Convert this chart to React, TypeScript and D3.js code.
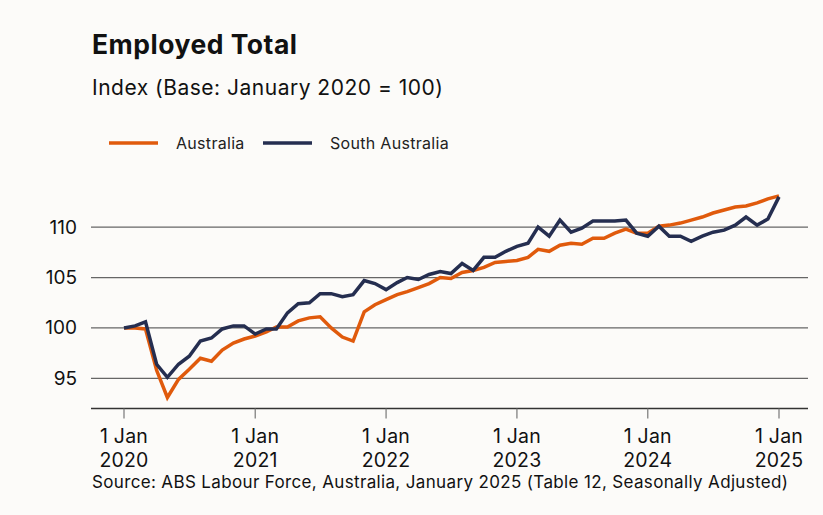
import React, { useEffect, useRef } from "react";
import * as d3 from "d3";

// monthly, Jan 2020 .. Jan 2025
const startMonth = new Date(2020, 0, 1);

const australia = [
  100.0, 100.0, 99.9, 95.8, 93.1, 94.9, 95.9, 97.0, 96.7, 97.8, 98.5, 98.9,
  99.2, 99.6, 100.1, 100.1, 100.7, 101.0, 101.1, 100.0, 99.1, 98.7, 101.6, 102.3,
  102.8, 103.3, 103.6, 104.0, 104.4, 105.0, 104.9, 105.5, 105.7, 106.0, 106.5, 106.6,
  106.7, 107.0, 107.8, 107.6, 108.2, 108.4, 108.3, 108.9, 108.9, 109.4, 109.8, 109.4,
  109.4, 110.1, 110.2, 110.4, 110.7, 111.0, 111.4, 111.7, 112.0, 112.1, 112.4, 112.8,
  113.1,
];

const southAustralia = [
  100.0, 100.2, 100.6, 96.4, 95.1, 96.4, 97.2, 98.7, 99.0, 99.9, 100.2, 100.2,
  99.4, 99.9, 99.9, 101.5, 102.4, 102.5, 103.4, 103.4, 103.1, 103.3, 104.7, 104.4,
  103.8, 104.5, 105.0, 104.8, 105.3, 105.6, 105.4, 106.4, 105.7, 107.0, 107.0, 107.6,
  108.1, 108.4, 110.0, 109.1, 110.7, 109.5, 109.9, 110.6, 110.6, 110.6, 110.7, 109.4,
  109.1, 110.1, 109.1, 109.1, 108.6, 109.1, 109.5, 109.7, 110.2, 111.0, 110.2, 110.8,
  113.0,
];

const yTicks = [95, 100, 105, 110];
const xTickYears = [2020, 2021, 2022, 2023, 2024, 2025];

const series = [
  { name: "Australia", values: australia, color: "#e05a0c" },
  { name: "South Australia", values: southAustralia, color: "#252e50" },
];

const font = "Inter, 'DejaVu Sans', sans-serif";

function App() {
  const svgRef = useRef(null);

  useEffect(() => {
    document.body.style.margin = "0";
    const width = 823;
    const height = 515;

    const svg = d3.select(svgRef.current);
    svg.selectAll("*").remove();

    svg.append("rect").attr("width", width).attr("height", height).attr("fill", "#fcfbf9");

    const xScale = d3
      .scaleTime()
      .domain([new Date(2020, 0, 1), new Date(2025, 0, 1)])
      .range([124, 779]);

    const yScale = d3.scaleLinear().domain([92, 114]).range([408.6, 186.8]);

    const left = 91;
    const right = 808;

    // title + subtitle
    svg
      .append("text")
      .attr("x", 92)
      .attr("y", 54)
      .attr("font-family", font)
      .attr("font-weight", 700)
      .attr("font-size", 26.5)
      .attr("letter-spacing", 0.5)
      .attr("fill", "#111")
      .text("Employed Total");

    svg
      .append("text")
      .attr("x", 92)
      .attr("y", 95)
      .attr("font-family", font)
      .attr("font-size", 21)
      .attr("letter-spacing", 0.5)
      .attr("fill", "#111")
      .text("Index (Base: January 2020 = 100)");

    // legend
    const legend = svg
      .append("g")
      .attr("font-family", font)
      .attr("font-size", 16)
      .attr("letter-spacing", 0.3);
    const legendPos = [
      { x1: 109, tx: 176 },
      { x1: 263, tx: 330 },
    ];
    series.forEach((s, i) => {
      legend
        .append("line")
        .attr("x1", legendPos[i].x1)
        .attr("x2", legendPos[i].x1 + 49)
        .attr("y1", 143)
        .attr("y2", 143)
        .attr("stroke", s.color)
        .attr("stroke-width", 3.5);
      legend
        .append("text")
        .attr("x", legendPos[i].tx)
        .attr("y", 149)
        .attr("fill", "#222")
        .text(s.name);
    });

    // gridlines + y labels
    const grid = svg.append("g");
    yTicks.forEach((t) => {
      grid
        .append("line")
        .attr("x1", left)
        .attr("x2", right)
        .attr("y1", yScale(t))
        .attr("y2", yScale(t))
        .attr("stroke", "#666")
        .attr("stroke-width", 1.2);
      grid
        .append("text")
        .attr("x", 77)
        .attr("y", yScale(t) + 6.5)
        .attr("text-anchor", "end")
        .attr("font-family", font)
        .attr("font-size", 19)
        .attr("fill", "#111")
        .text(t);
    });

    // x axis
    const axisY = 408.5;
    const xAxis = svg.append("g");
    xAxis
      .append("line")
      .attr("x1", left)
      .attr("x2", right)
      .attr("y1", axisY)
      .attr("y2", axisY)
      .attr("stroke", "#333")
      .attr("stroke-width", 1.3);
    xTickYears.forEach((yr) => {
      const x = xScale(new Date(yr, 0, 1));
      xAxis
        .append("line")
        .attr("x1", x)
        .attr("x2", x)
        .attr("y1", axisY)
        .attr("y2", axisY + 10)
        .attr("stroke", "#777")
        .attr("stroke-width", 1.2);
      const label = xAxis
        .append("text")
        .attr("text-anchor", "middle")
        .attr("font-family", font)
        .attr("font-size", 19.5)
        .attr("letter-spacing", 0.2)
        .attr("fill", "#111");
      label.append("tspan").attr("x", x).attr("y", 443).text("1 Jan");
      label.append("tspan").attr("x", x).attr("y", 467).text(yr);
    });

    // lines
    const line = d3
      .line<number>()
      .x((_, i) => xScale(d3.timeMonth.offset(startMonth, i)))
      .y((d) => yScale(d));

    series.forEach((s) => {
      svg
        .append("path")
        .attr("d", line(s.values))
        .attr("fill", "none")
        .attr("stroke", s.color)
        .attr("stroke-width", 3.5)
        .attr("stroke-linejoin", "miter");
    });

    // source
    svg
      .append("text")
      .attr("x", 92)
      .attr("y", 488)
      .attr("font-family", font)
      .attr("font-size", 17)
      .attr("letter-spacing", 0.35)
      .attr("fill", "#111")
      .text("Source: ABS Labour Force, Australia, January 2025 (Table 12, Seasonally Adjusted)");
  }, []);

  return <svg ref={svgRef} width={823} height={515} style={{ display: "block" }} />;
}

export default App;
